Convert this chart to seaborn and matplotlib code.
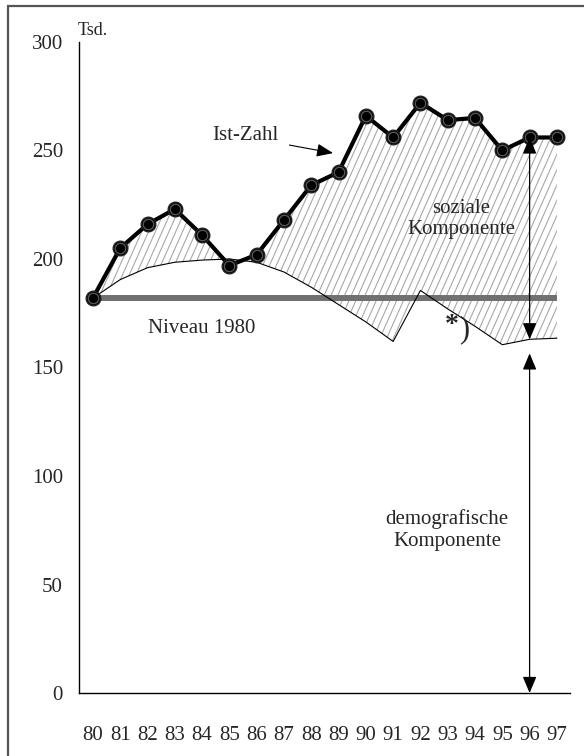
import numpy as np
import pandas as pd
import matplotlib
matplotlib.use("Agg")
import matplotlib.pyplot as plt
import seaborn as sns
from matplotlib.path import Path
from matplotlib.collections import LineCollection
from matplotlib.patches import Rectangle

# ---- data ----
years = list(range(80, 98))
year_labels = [str(y) for y in years]
ist_zahl = [182, 205, 216, 223, 211, 197, 202, 218, 234, 240,
            266, 256, 272, 264, 265, 250, 256, 256]
demografisch = [182, 190.5, 196, 198.5, 199.5, 200, 198.5, 194, 187, 179,
                171, 162, 185.5, 177, 169, 160.5, 163, 163.5]
niveau_1980 = 182
y_ticks = [0, 50, 100, 150, 200, 250, 300]

df = pd.DataFrame({"Jahr": years, "Ist": ist_zahl, "Demo": demografisch})

sns.set_style("white")
plt.rcParams["font.family"] = ["Liberation Serif", "DejaVu Serif"]

W, H = 584, 756
fig = plt.figure(figsize=(W / 100, H / 100), dpi=100)
ax = fig.add_axes([79 / W, (H - 693) / H, (570 - 79) / W, (693 - 42) / H])
ax.set_xlim(79.49, 97.48)
ax.set_ylim(0, 300)

# filled (hatched) area between demographic and actual
poly = ax.fill_between(df["Jahr"], df["Demo"], df["Ist"],
                       where=np.array(ist_zahl) >= np.array(demografisch),
                       interpolate=True, facecolor="none", edgecolor="none")
clip = Path.make_compound_path(*poly.get_paths())

# custom steep hatch lines (in pixel space)
px_per_year = (570 - 79) / (97.48 - 79.49)
px_per_unit = (693 - 42) / 300
slope_px = np.tan(np.radians(66))
slope_data = slope_px * px_per_year / px_per_unit
step = 6.8 / px_per_year
segs = []
for x0 in np.arange(70, 100, step):
    segs.append([(x0, 140), (x0 + 150 / slope_data, 290)])
lc = LineCollection(segs, colors="#a8a8a8", linewidths=0.8, zorder=1)
ax.add_collection(lc)
lc.set_clip_path(clip, ax.transData)

# level line
ax.plot([years[0], years[-1]], [niveau_1980, niveau_1980], color="#707070",
        lw=4.3, solid_capstyle="butt", zorder=2)

# demographic line
sns.lineplot(data=df, x="Jahr", y="Demo", ax=ax, color="black", lw=0.8,
             zorder=3, estimator=None)

# actual numbers
sns.lineplot(data=df, x="Jahr", y="Ist", ax=ax, color="black", lw=3.0,
             marker="o", markersize=10.5, markerfacecolor="black",
             markeredgecolor="#222222", markeredgewidth=1.0, zorder=5,
             estimator=None)
ax.plot(df["Jahr"], df["Ist"], ls="none", marker="o", markersize=7.5,
        markerfacecolor="none", markeredgecolor="#5a5a5a",
        markeredgewidth=0.9, zorder=6)

# arrows
arrow_kw = dict(arrowstyle="<|-|>,head_length=1.0,head_width=0.42",
                color="black", lw=0.9, mutation_scale=10,
                shrinkA=0, shrinkB=0)
ax.annotate("", xy=(96, 256), xytext=(96, 163), arrowprops=arrow_kw, zorder=7)
ax.annotate("", xy=(96, 156.5), xytext=(96, 0), arrowprops=arrow_kw, zorder=7)
ax.annotate("", xy=(88.8, 248.8), xytext=(87.2, 252.5),
            arrowprops=dict(arrowstyle="-|>,head_length=1.0,head_width=0.4",
                            color="black", lw=0.8, mutation_scale=10,
                            shrinkA=0, shrinkB=0), zorder=7)

# texts
fs = 15
ax.text(85.57, 257.1, "Ist-Zahl", fontsize=fs, ha="center", va="center")
ax.text(84.0, 168.2, "Niveau 1980", fontsize=fs, ha="center", va="center")
ax.text(93.5, 218.4, "soziale\nKomponente", fontsize=fs, ha="center",
        va="center", linespacing=1.2)
ax.text(92.97, 75.1, "demografische\nKomponente", fontsize=fs, ha="center",
        va="center", linespacing=1.25)
ax.text(93.15, 169.5, "*", fontsize=20, ha="center", va="center",
        fontweight="bold")
ax.text(93.6, 167.3, ")", fontsize=22, ha="center", va="center")
ax.text(79.45, 305.5, "Tsd.", fontsize=13, ha="left", va="center", clip_on=False)

# axes styling
ax.set_xticks(years)
ax.set_xticklabels(year_labels)
ax.set_yticks(y_ticks)
ax.set_xlabel("")
ax.set_ylabel("")
ax.tick_params(axis="both", length=0, labelsize=fs)
ax.tick_params(axis="y", pad=11.5)
ax.tick_params(axis="x", pad=24)
for s in ["top", "right"]:
    ax.spines[s].set_visible(False)
for s in ["left", "bottom"]:
    ax.spines[s].set_color("black")
    ax.spines[s].set_linewidth(1.0)
ax.grid(False)

# outer frame (top and left visible)
fig.patches.append(Rectangle((8 / W, -0.1), 1.2, 1.1 - 6 / H,
                             transform=fig.transFigure, fill=False,
                             edgecolor="#555555", lw=1.6, zorder=0))

fig.savefig("out.png", dpi=100)
